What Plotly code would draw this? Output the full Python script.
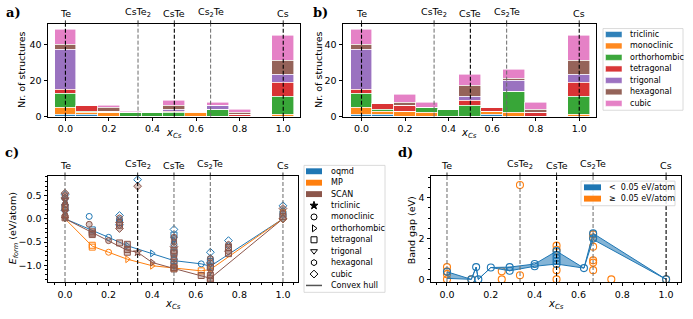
import plotly.graph_objects as go

W, H = 693, 319
FONT = "DejaVu Sans"

# ---------------- data: panels a & b (stacked histograms) ----------------
bin_centers = [0.0, 0.1, 0.2, 0.3, 0.4, 0.5, 0.6, 0.7, 0.8, 0.9, 1.0]
crystal_systems = ["triclinic", "monoclinic", "orthorhombic", "tetragonal",
                   "trigonal", "hexagonal", "cubic"]
system_colors = ["#1f77b4", "#ff7f0e", "#2ca02c", "#d62728",
                 "#9467bd", "#8c564b", "#e377c2"]

a_triclinic    = [1, 1, 0, 0, 0, 0, 0, 0, 0, 0, 0]
a_monoclinic   = [4, 1, 2, 0, 0, 0, 2, 0, 0, 0, 1]
a_orthorhombic = [8, 1, 0, 2, 2, 2, 0, 4, 0, 0, 10]
a_tetragonal   = [2, 3, 1, 0, 0, 1, 1, 0, 1, 0, 8]
a_trigonal     = [22, 0, 0, 0, 0, 1, 0, 2, 0, 0, 4]
a_hexagonal    = [3, 0, 2, 0, 0, 2, 0, 0, 1, 0, 8]
a_cubic        = [8, 0, 1, 1, 0, 3, 0, 2, 2, 0, 14]

b_triclinic    = [1, 1, 0, 0, 0, 0, 1, 0, 0, 0, 0]
b_monoclinic   = [4, 2, 3, 2, 0, 0, 2, 2, 0, 0, 1]
b_orthorhombic = [8, 1, 0, 3, 4, 6, 0, 12, 0, 0, 10]
b_tetragonal   = [2, 3, 3, 0, 0, 3, 2, 0, 2, 0, 8]
b_trigonal     = [22, 0, 0, 0, 0, 2, 0, 6, 0, 0, 4]
b_hexagonal    = [3, 0, 2, 0, 0, 6, 0, 1, 2, 0, 8]
b_cubic        = [8, 0, 4, 3, 0, 6, 0, 5, 4, 0, 14]

# reference compositions (top labels)
phase_x = [0.0, 1 / 3, 0.5, 2 / 3, 1.0]
phase_labels = ["Te", "CsTe<sub>2</sub>", "CsTe", "Cs<sub>2</sub>Te", "Cs"]

# ---------------- data: panel c (formation energies) ----------------
oqmd_x = [0, 0, 0, 0, 0, 0, 0, 0,
          0.111, 0.125, 0.2, 0.25, 0.25, 0.25, 0.25, 0.286, 0.333, 0.4,
          0.5, 0.5, 0.5, 0.5, 0.5, 0.5, 0.5, 0.625,
          0.667, 0.667, 0.667, 0.667, 0.667, 0.75, 0.75, 0.75,
          1, 1, 1, 1]
oqmd_E = [0.52, 0.45, 0.40, 0.35, 0.30, 0.25, 0.18, 0.0,
          0.05, -0.24, -0.40, 0.07, -0.02, -0.08, -0.13, -0.58, 0.84, -0.745,
          -0.23, -0.35, -0.42, -0.47, -0.55, -0.72, -0.90, -0.97,
          -0.72, -0.85, -0.92, -1.0, -1.02, -0.47, -0.58, -0.62,
          0.28, 0.17, 0.10, 0.0]
oqmd_sys = ["cub", "hex", "trg", "ort", "mon", "tet", "cub", "trg",
            "mon", "tet", "mon", "cub", "hex", "tet", "cub", "ort", "cub", "ort",
            "cub", "tet", "hex", "ort", "mon", "tet", "tet", "mon",
            "cub", "hex", "tet", "ort", "tet", "cub", "hex", "tet",
            "cub", "hex", "tet", "cub"]

mp_x = [0, 0, 0.125, 0.125, 0.2, 0.286, 0.4, 0.5, 0.625, 0.667, 1, 1]
mp_E = [0.0, 0.22, -0.57, -0.61, -0.72, -0.87, -1.01, -1.06, -1.12, -1.09, 0.15, 0.0]
mp_sys = ["trg", "ort", "tet", "tet", "mon", "ort", "ort", "tet", "tet", "ort", "hex", "cub"]

scan_x = [0, 0, 0, 0, 0, 0, 0, 0, 0, 0, 0, 0, 0,
          0.111, 0.125, 0.125, 0.125, 0.2,
          0.25, 0.25, 0.25, 0.25, 0.25, 0.286, 0.286, 0.286,
          0.333, 0.333, 0.4,
          0.5, 0.5, 0.5, 0.5, 0.5, 0.5, 0.5, 0.5, 0.5, 0.5,
          0.625, 0.667, 0.667, 0.667, 0.667, 0.667, 0.667, 0.667,
          0.75, 0.75, 0.75, 0.75, 1, 1, 1, 1]
scan_E = [0.55, 0.50, 0.45, 0.40, 0.35, 0.30, 0.25, 0.20, 0.15, 0.10, 0.06, 0.02, 0.0,
          -0.12, -0.28, -0.31, -0.34, -0.47,
          0.02, -0.08, -0.14, -0.21, -0.52, -0.55, -0.66, -0.72,
          0.70, -0.72, -0.94,
          -0.40, -0.50, -0.60, -0.68, -0.75, -0.82, -0.90, -0.98, -1.05, -1.08,
          -1.22, -0.85, -0.95, -1.05, -1.15, -1.22, -1.28, -1.32,
          -0.55, -0.62, -0.70, -0.75, 0.22, 0.12, 0.05, 0.0]
scan_sys = ["cub", "hex", "cub", "trg", "ort", "mon", "tet", "hex", "trg", "ort", "mon", "tet", "trg",
            "mon", "tet", "tet", "tet", "mon",
            "hex", "cub", "tet", "cub", "tet", "tet", "tet", "tet",
            "cub", "tri", "ort",
            "mon", "hex", "cub", "tet", "tet", "hex", "trg", "tet", "tet", "tet",
            "tet", "hex", "cub", "tet", "ort", "tet", "tet", "tet",
            "hex", "tet", "cub", "tet", "cub", "hex", "tet", "cub"]

oqmd_hull_x = [0, 0.125, 0.2, 0.286, 0.4, 0.5, 0.625, 0.667, 1.0]
oqmd_hull_E = [0, -0.24, -0.40, -0.58, -0.745, -0.90, -0.97, -1.02, 0]
mp_hull_x = [0, 0.125, 0.2, 0.286, 0.4, 0.5, 0.625, 0.667, 1.0]
mp_hull_E = [0, -0.59, -0.72, -0.87, -1.01, -1.06, -1.12, -1.09, 0]
scan_hull_x = [0, 0.125, 0.2, 0.286, 0.333, 0.4, 0.5, 0.625, 0.667, 1.0]
scan_hull_E = [0, -0.30, -0.47, -0.68, -0.72, -0.94, -1.07, -1.22, -1.28, 0]

# ---------------- data: panel d (band gaps) ----------------
band_x = [0.0, 0.111, 0.133, 0.143, 0.2, 0.286, 0.4, 0.5, 0.625, 0.667, 1.0]
band_upper = [0.37, 0.0, 0.60, 0.0, 0.58, 0.60, 0.75, 1.38, 0.55, 2.25, 0.0]
band_lower = [0.05, 0.0, 0.60, 0.0, 0.58, 0.42, 0.64, 0.75, 0.55, 1.95, 0.0]
stable_x = [0.0, 0.111, 0.133, 0.143, 0.2, 0.286, 0.286, 0.4, 0.4,
            0.5, 0.5, 0.5, 0.5, 0.5, 0.625, 0.667, 0.667, 1.0]
stable_gap = [0.37, 0.0, 0.60, 0.0, 0.58, 0.60, 0.42, 0.75, 0.64,
              1.38, 1.20, 1.05, 0.90, 0.75, 0.55, 2.25, 2.0, 0.0]
unstable_x = [0, 0, 0, 0, 0.111, 0.25, 0.25, 0.333, 0.333,
              0.5, 0.5, 0.5, 0.5, 0.667, 0.667, 0.667, 0.667, 0.667, 0.667, 0.75, 1.0]
unstable_gap = [0.60, 0.40, 0.25, 0.0, 0.0, 0.40, 0.0, 4.62, 0.20,
                1.65, 1.45, 0.45, 0.0, 2.20, 2.05, 1.60, 0.93, 0.82, 0.45, 0.0, 0.0]

# ---------------- styling helpers ----------------
BLUE, ORANGE, BROWN = "#1f77b4", "#ff7f0e", "#8c564b"
symbol_map = {"tri": "star", "mon": "circle-open", "ort": "triangle-right-open",
              "tet": "square-open", "trg": "triangle-down-open",
              "hex": "hexagon-open", "cub": "diamond-open"}


def px_x(p):
    return p / W


def px_y(p):
    return 1 - p / H


def axis(domain, rng, anchor, tickvals, ticktext, minor=None):
    d = dict(domain=domain, range=rng, anchor=anchor, showline=True, mirror=True,
             linecolor="black", linewidth=0.9, ticks="outside", ticklen=3.5,
             tickwidth=0.8, tickcolor="black", showgrid=False, zeroline=False,
             tickmode="array", tickvals=tickvals, ticktext=ticktext,
             tickfont=dict(family=FONT, size=9.5, color="black"), fixedrange=True)
    if minor:
        d["minor"] = dict(ticks="outside", ticklen=2, tickwidth=0.6,
                          tickcolor="black", dtick=minor, tick0=0, showgrid=False)
    return d


xt = [0, 0.2, 0.4, 0.6, 0.8, 1.0]
xtt = ["0.0", "0.2", "0.4", "0.6", "0.8", "1.0"]

fig = go.Figure()

# ---------------- panels a, b ----------------
a_counts = [a_triclinic, a_monoclinic, a_orthorhombic, a_tetragonal, a_trigonal, a_hexagonal, a_cubic]
b_counts = [b_triclinic, b_monoclinic, b_orthorhombic, b_tetragonal, b_trigonal, b_hexagonal, b_cubic]
for counts, xa, ya in [(a_counts, "x", "y"), (b_counts, "x2", "y2")]:
    for name, col, vals in zip(crystal_systems, system_colors, counts):
        fig.add_trace(go.Bar(x=bin_centers, y=vals, width=0.1, name=name,
                             marker=dict(color=col, line=dict(color="rgba(255,255,255,0.75)", width=0.8)),
                             opacity=0.92, xaxis=xa, yaxis=ya, showlegend=False,
                             hoverinfo="skip"))

# ---------------- panel c ----------------
for hx, hy, col in [(oqmd_hull_x, oqmd_hull_E, BLUE), (mp_hull_x, mp_hull_E, ORANGE),
                    (scan_hull_x, scan_hull_E, BROWN)]:
    fig.add_trace(go.Scatter(x=hx, y=hy, mode="lines", line=dict(color=col, width=1),
                             xaxis="x3", yaxis="y3", showlegend=False, hoverinfo="skip"))
for xs, es, ss, col, filled in [(oqmd_x, oqmd_E, oqmd_sys, BLUE, False),
                                (mp_x, mp_E, mp_sys, ORANGE, False),
                                (scan_x, scan_E, scan_sys, BROWN, True)]:
    if filled:
        syms = [symbol_map[s].replace("-open", "") for s in ss]
        mcol = "rgba(140,86,75,0.35)"
    else:
        syms = [symbol_map[s] for s in ss]
        mcol = col
    fig.add_trace(go.Scatter(x=xs, y=es, mode="markers",
                             marker=dict(symbol=syms, size=6, color=mcol,
                                         line=dict(color=col, width=1)),
                             xaxis="x3", yaxis="y3", showlegend=False, hoverinfo="skip"))

# ---------------- panel d ----------------
fig.add_trace(go.Scatter(x=unstable_x, y=unstable_gap, mode="markers",
                         marker=dict(symbol="circle-open", size=7, color=ORANGE,
                                     line=dict(color=ORANGE, width=1.1)),
                         xaxis="x4", yaxis="y4", showlegend=False, hoverinfo="skip"))
fig.add_trace(go.Scatter(x=band_x, y=band_lower, mode="lines",
                         line=dict(color=BLUE, width=1), xaxis="x4", yaxis="y4",
                         showlegend=False, hoverinfo="skip"))
fig.add_trace(go.Scatter(x=band_x, y=band_upper, mode="lines", fill="tonexty",
                         fillcolor="rgba(31,119,180,0.55)",
                         line=dict(color=BLUE, width=1), xaxis="x4", yaxis="y4",
                         showlegend=False, hoverinfo="skip"))
fig.add_trace(go.Scatter(x=stable_x, y=stable_gap, mode="markers",
                         marker=dict(symbol="circle-open", size=7, color=BLUE,
                                     line=dict(color=BLUE, width=1.1)),
                         xaxis="x4", yaxis="y4", showlegend=False, hoverinfo="skip"))

# ---------------- layout / axes ----------------
dom_ab_y = [px_y(118.5), px_y(24)]
dom_cd_y = [px_y(286.5), px_y(179)]
layout = dict(
    width=W, height=H, margin=dict(l=0, r=0, t=0, b=0),
    paper_bgcolor="white", plot_bgcolor="rgba(0,0,0,0)",
    barmode="stack", bargap=0, showlegend=False,
    font=dict(family=FONT, size=9.5, color="black"),
    xaxis=axis([px_x(48), px_x(300)], [-0.080, 1.077], "y", xt, xtt),
    yaxis=axis(dom_ab_y, [0, 51.5], "x", [0, 20, 40], ["0", "20", "40"]),
    xaxis2=axis([px_x(343), px_x(596)], [-0.085, 1.077], "y2", xt, xtt),
    yaxis2=axis(dom_ab_y, [0, 51.5], "x2", [0, 20, 40], ["0", "20", "40"]),
    xaxis3=axis([px_x(48), px_x(298)], [-0.078, 1.069], "y3", xt, xtt, minor=0.05),
    yaxis3=axis(dom_cd_y, [-1.36, 0.915], "x3", [-1.0, -0.5, 0.0, 0.5],
                ["\u22121.0", "\u22120.5", "0.0", "0.5"], minor=0.1),
    xaxis4=axis([px_x(431), px_x(681)], [-0.073, 1.068], "y4", xt, xtt, minor=0.05),
    yaxis4=axis(dom_cd_y, [-0.13, 5.05], "x4", [0, 2, 4], ["0", "2", "4"], minor=0.5),
    xaxis5=dict(domain=[0, 1], range=[0, W], anchor="y5", visible=False, fixedrange=True),
    yaxis5=dict(domain=[0, 1], range=[H, 0], anchor="x5", visible=False, fixedrange=True),
)
fig.update_layout(**layout)

shapes = []
annotations = []

DARK = dict(color="black", width=1.1, dash="4px,2px")
LIGHT = dict(color="#6a6a6a", width=1.0, dash="4px,2px")
panel_line_styles = {
    ("x", "y"): [DARK, LIGHT, DARK, LIGHT, DARK],
    ("x2", "y2"): [DARK, LIGHT, DARK, LIGHT, DARK],
    ("x3", "y3"): [LIGHT, DARK, LIGHT, LIGHT, LIGHT],
    ("x4", "y4"): [LIGHT, LIGHT, DARK, LIGHT, DARK],
}
for (xa, ya), styles in panel_line_styles.items():
    for xv, lab, st in zip(phase_x, phase_labels, styles):
        shapes.append(dict(type="line", xref=xa, yref=ya + " domain", x0=xv, x1=xv,
                           y0=0, y1=1, line=st, layer="above"))
        shapes.append(dict(type="line", xref=xa, yref=ya + " domain", x0=xv, x1=xv,
                           y0=1, y1=1.035, line=dict(color="black", width=0.8)))
        annotations.append(dict(x=xv, y=1, xref=xa, yref=ya + " domain", text=lab,
                                showarrow=False, yanchor="bottom", yshift=3,
                                font=dict(family=FONT, size=9.5, color="black")))


def txt(x, y, s, size=9.5, anchor="center", angle=0, family=FONT, bold=False):
    if bold:
        s = "<b>" + s + "</b>"
    annotations.append(dict(x=x, y=y, xref="x5", yref="y5", text=s, showarrow=False,
                            xanchor=anchor, yanchor="middle", textangle=angle,
                            font=dict(family=family, size=size, color="black")))


# panel labels
txt(13, 13, "a)", size=13, family="DejaVu Serif", bold=True)
txt(320, 13, "b)", size=13, family="DejaVu Serif", bold=True)
txt(12, 155, "c)", size=13, family="DejaVu Serif", bold=True)
txt(405, 155, "d)", size=13, family="DejaVu Serif", bold=True)

# axis titles
xcs = "<i>x</i><sub><i>Cs</i></sub>"
txt(174, 136, xcs, size=10)
txt(469, 136, xcs, size=10)
txt(173, 309, xcs, size=10)
txt(556, 309, xcs, size=10)
txt(22, 71, "Nr. of structures", angle=-90)
txt(319, 71, "Nr. of structures", angle=-90)
txt(13, 232, "<i>E</i><sub><i>form</i></sub> (eV/atom)", angle=-90)
txt(411, 234, "Band gap (eV)", angle=-90)

# legend a/b
shapes.append(dict(type="rect", xref="x5", yref="y5", x0=603, x1=683, y0=29, y1=112,
                   line=dict(color="#d0d0d0", width=0.8), fillcolor="white", layer="below"))
for i, (name, col) in enumerate(zip(crystal_systems, system_colors)):
    yc = 35 + 11.67 * i
    shapes.append(dict(type="rect", xref="x5", yref="y5", x0=605.5, x1=622, y0=yc - 3, y1=yc + 3,
                       line=dict(color="white", width=0.5), fillcolor=col, opacity=0.92))
    txt(628, yc, name, size=8, anchor="left")

# legend c
shapes.append(dict(type="rect", xref="x5", yref="y5", x0=304, x1=385, y0=168, y1=297,
                   line=dict(color="#d0d0d0", width=0.8), fillcolor="white", layer="below"))
leg_c_patches = [("oqmd", BLUE), ("MP", ORANGE), ("SCAN", BROWN)]
leg_c_markers = [("triclinic", "star"), ("monoclinic", "circle-open"),
                 ("orthorhombic", "triangle-right-open"), ("tetragonal", "square-open"),
                 ("trigonal", "triangle-down-open"), ("hexagonal", "hexagon-open"),
                 ("cubic", "diamond-open")]
row = 0
for name, col in leg_c_patches:
    yc = 174 + 11.6 * row
    shapes.append(dict(type="rect", xref="x5", yref="y5", x0=306, x1=322, y0=yc - 3, y1=yc + 3,
                       line=dict(width=0), fillcolor=col))
    txt(329, yc, name, size=8, anchor="left")
    row += 1
mk_y = []
mk_sym = []
for name, sym in leg_c_markers:
    yc = 174 + 11.6 * row
    mk_y.append(yc)
    mk_sym.append(sym)
    txt(329, yc, name, size=8, anchor="left")
    row += 1
fig.add_trace(go.Scatter(x=[314] * len(mk_y), y=mk_y, mode="markers",
                         marker=dict(symbol=mk_sym, size=6, color="black",
                                     line=dict(color="black", width=1)),
                         xaxis="x5", yaxis="y5", showlegend=False, hoverinfo="skip"))
yc = 174 + 11.6 * row
shapes.append(dict(type="line", xref="x5", yref="y5", x0=306, x1=322, y0=yc, y1=yc,
                   line=dict(color="#555555", width=1.5)))
txt(329, yc, "Convex hull", size=8, anchor="left")

# legend d
shapes.append(dict(type="rect", xref="x5", yref="y5", x0=581, x1=675, y0=184, y1=209,
                   line=dict(color="#d0d0d0", width=0.8), fillcolor="rgba(255,255,255,0.85)"))
for i, (name, col) in enumerate([("<  0.05 eV/atom", BLUE), ("\u2265  0.05 eV/atom", ORANGE)]):
    yc = 190.3 + 11.5 * i
    shapes.append(dict(type="rect", xref="x5", yref="y5", x0=584, x1=601, y0=yc - 3, y1=yc + 3,
                       line=dict(width=0), fillcolor=col))
    txt(607, yc, name, size=8, anchor="left")

fig.update_layout(shapes=shapes, annotations=annotations)
fig.write_html("out.html", config={"displayModeBar": False},
               post_script="document.body.style.margin='0';document.body.style.overflow='hidden';")
